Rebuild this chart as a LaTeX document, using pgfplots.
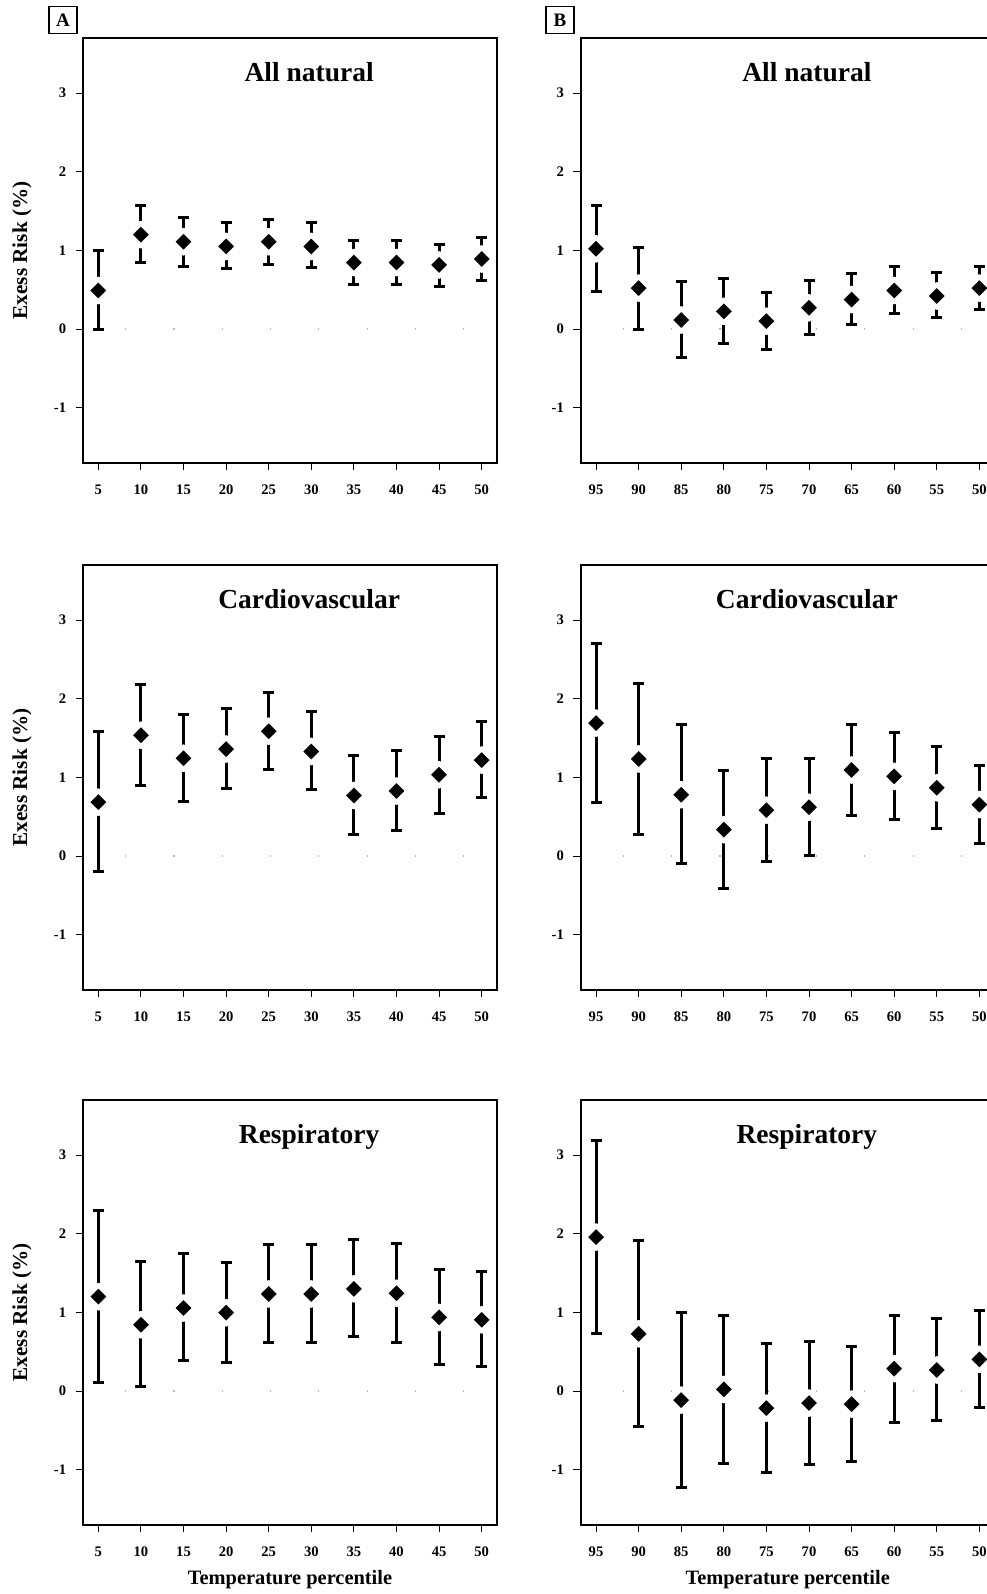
\documentclass[border=0pt]{standalone}
\usepackage{fontspec}
\setmainfont{Liberation Serif}
\usepackage{pgfplots}
\pgfplotsset{compat=1.18}
\usepackage{pgfplotstable}

\pgfplotstableread{
x y lo hi
1 0.49 0.00 1.00
2 1.20 0.84 1.57
3 1.11 0.80 1.42
4 1.05 0.77 1.35
5 1.11 0.82 1.39
6 1.05 0.78 1.35
7 0.845 0.565 1.13
8 0.845 0.57 1.13
9 0.815 0.54 1.08
10 0.89 0.62 1.16
}\Aall
\pgfplotstableread{
x y lo hi
1 1.02 0.48 1.57
2 0.52 0.00 1.04
3 0.115 -0.36 0.60
4 0.225 -0.18 0.645
5 0.10 -0.255 0.47
6 0.27 -0.064 0.62
7 0.375 0.06 0.71
8 0.49 0.195 0.80
9 0.42 0.145 0.715
10 0.52 0.255 0.80
}\Ball
\pgfplotstableread{
x y lo hi
1 0.685 -0.20 1.587
2 1.536 0.894 2.18
3 1.243 0.70 1.80
4 1.36 0.86 1.87
5 1.587 1.098 2.085
6 1.33 0.84 1.84
7 0.77 0.27 1.277
8 0.826 0.33 1.34
9 1.034 0.545 1.52
10 1.22 0.745 1.71
}\Acv
\pgfplotstableread{
x y lo hi
1 1.69 0.68 2.70
2 1.234 0.28 2.19
3 0.78 -0.10 1.67
4 0.336 -0.41 1.094
5 0.583 -0.064 1.234
6 0.62 0.01 1.24
7 1.094 0.52 1.67
8 1.013 0.468 1.566
9 0.868 0.353 1.39
10 0.655 0.166 1.153
}\Bcv
\pgfplotstableread{
x y lo hi
1 1.20 0.11 2.29
2 0.843 0.055 1.647
3 1.055 0.383 1.745
4 0.996 0.357 1.638
5 1.234 0.617 1.864
6 1.234 0.62 1.864
7 1.30 0.69 1.93
8 1.243 0.62 1.87
9 0.936 0.336 1.545
10 0.906 0.31 1.515
}\Aresp
\pgfplotstableread{
x y lo hi
1 1.957 0.728 3.19
2 0.728 -0.455 1.915
3 -0.115 -1.22 1.004
4 0.021 -0.915 0.966
5 -0.217 -1.03 0.60
6 -0.153 -0.93 0.626
7 -0.166 -0.894 0.566
8 0.285 -0.396 0.966
9 0.268 -0.374 0.923
10 0.404 -0.213 1.026
}\Bresp

\pgfplotsset{
  panel/.style={
    scale only axis, width=207pt, height=212.4pt,
    xmin=0.64, xmax=10.36, ymin=-1.7, ymax=3.7,
    xtick={1,2,...,10}, ytick={-1,0,1,2,3},
    xtick pos=lower, ytick pos=left,
    tick align=outside, major tick length=3.75pt,
    every tick/.style={black, line width=0.5pt},
    axis line style={line width=0.8pt},
    tick label style={font=\bfseries\fontsize{7.3}{8}\selectfont},
    /pgf/number format/assume math mode=true,
    xticklabel style={anchor=north, inner sep=0pt, yshift=-7.0pt},
    yticklabel style={anchor=east, inner sep=0pt, xshift=-4.5pt},
    clip=false,
    every axis x label/.style={at={(axis description cs:0.5,0)}, anchor=center, yshift=-27.5pt, font=\bfseries\fontsize{10.2}{12}\selectfont},
    every axis y label/.style={at={(axis description cs:0,0.5)}, anchor=center, xshift=-30.5pt, rotate=90, font=\bfseries\fontsize{10.6}{12}\selectfont},
  },
  Bpanel/.style={panel, xticklabels={95,90,85,80,75,70,65,60,55,50}},
  Apanel/.style={panel, xticklabels={5,10,15,20,25,30,35,40,45,50}, ylabel={Exess Risk (\%)}},
  zeroline/.style={gray!55, line width=0.7pt, dash pattern=on 0.6pt off 23.55pt, dash phase=3.15pt},
  ebar/.style={only marks, black, mark=square*, mark size=4.07pt,
    mark options={rotate=45, fill=black, draw=white, line width=2.4pt, line join=round},
    error bars/.cd, y dir=both, y explicit,
    error bar style={line width=1.5pt, black},
    error mark options={rotate=90, black, line width=1.5pt, mark size=2.75pt}},
}
\newcommand{\ptitle}[1]{\node[anchor=base, font=\bfseries\fontsize{13.75}{16}\selectfont] at (axis cs:5.95,3.15) {#1};}
\newcommand{\series}[1]{%
  \addplot[zeroline] coordinates {(0.64,0) (10.36,0)};
  \addplot[ebar] table[x=x, y=y, y error plus expr=\thisrow{hi}-\thisrow{y}, y error minus expr=\thisrow{y}-\thisrow{lo}] {#1};
}

\begin{document}
\begin{tikzpicture}
\begin{axis}[Apanel, at={(41.5pt,-19pt)}, anchor=north west]
\series{\Aall}
\ptitle{All natural}
\end{axis}
\begin{axis}[Bpanel, at={(290.35pt,-19pt)}, anchor=north west]
\series{\Ball}
\ptitle{All natural}
\end{axis}
\begin{axis}[Apanel, at={(41.5pt,-282.5pt)}, anchor=north west]
\series{\Acv}
\ptitle{Cardiovascular}
\end{axis}
\begin{axis}[Bpanel, at={(290.35pt,-282.5pt)}, anchor=north west]
\series{\Bcv}
\ptitle{Cardiovascular}
\end{axis}
\begin{axis}[Apanel, at={(41.5pt,-550pt)}, anchor=north west, xlabel={Temperature percentile}]
\series{\Aresp}
\ptitle{Respiratory}
\end{axis}
\begin{axis}[Bpanel, at={(290.35pt,-550pt)}, anchor=north west, xlabel={Temperature percentile}]
\series{\Bresp}
\ptitle{Respiratory}
\end{axis}
\node[draw, line width=0.6pt, minimum width=14pt, minimum height=13.5pt, inner sep=0pt, font=\bfseries\fontsize{9.5}{10}\selectfont] at (31.5pt,-10pt) {A};
\node[draw, line width=0.6pt, minimum width=14pt, minimum height=13.5pt, inner sep=0pt, font=\bfseries\fontsize{9.5}{10}\selectfont] at (280pt,-10pt) {B};
\pgfresetboundingbox
\path[use as bounding box] (0pt,0pt) rectangle (493pt,-797pt);
\end{tikzpicture}
\end{document}
